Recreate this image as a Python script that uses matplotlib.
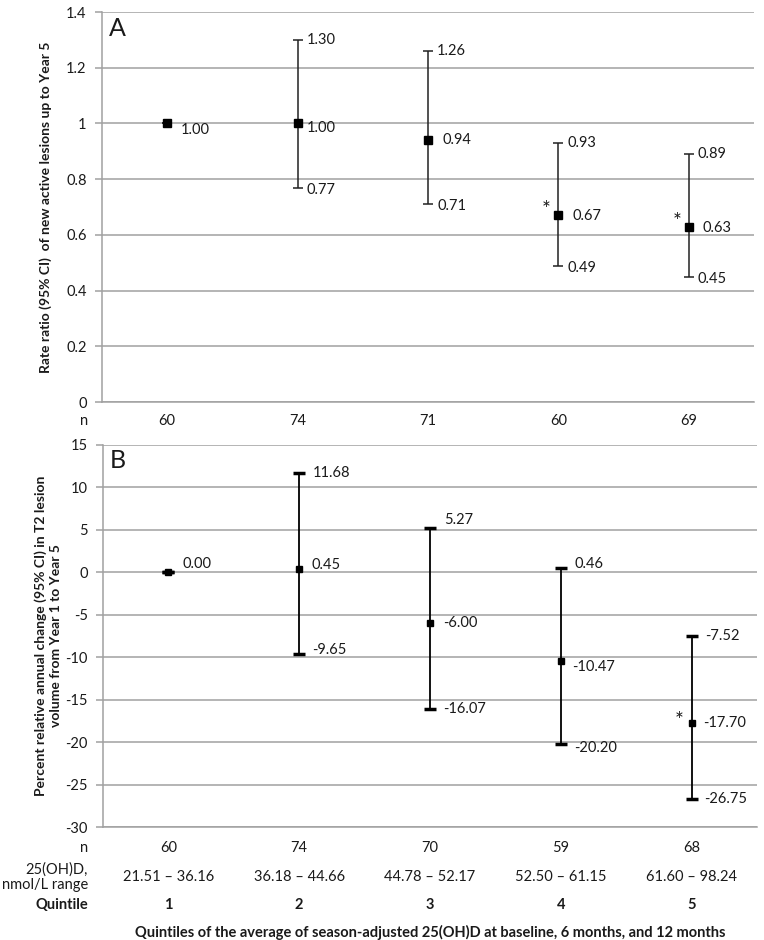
import matplotlib.pyplot as plt
import numpy as np
from matplotlib.ticker import FuncFormatter

plt.rcParams['font.family'] = ['Lato', 'DejaVu Sans']

quintiles = ['1', '2', '3', '4', '5']

# Panel A: rate ratio of new active lesions
rr = [1.00, 1.00, 0.94, 0.67, 0.63]
rr_lo = [1.00, 0.77, 0.71, 0.49, 0.45]
rr_hi = [1.00, 1.30, 1.26, 0.93, 0.89]
n_a = [60, 74, 71, 60, 69]
sig_a = [False, False, False, True, True]

# Panel B: percent relative annual change in T2 lesion volume
pc = [0.00, 0.45, -6.00, -10.47, -17.70]
pc_lo = [0.00, -9.65, -16.07, -20.20, -26.75]
pc_hi = [0.00, 11.68, 5.27, 0.46, -7.52]
n_b = [60, 74, 70, 59, 68]
sig_b = [False, False, False, False, True]
ranges = ['21.51 – 36.16', '36.18 – 44.66', '44.78 – 52.17', '52.50 – 61.15', '61.60 – 98.24']

x = np.arange(len(quintiles))
grid_c = '#a0a0a0'
txt_c = '#1a1a1a'
fs = 10.5

fig = plt.figure(figsize=(7.64, 9.40), dpi=100)
axA = fig.add_axes([0.1335, 0.5723, 0.8535, 0.4149])
axB = fig.add_axes([0.1348, 0.1202, 0.856, 0.4064])


def style_axis(ax, ylim, ticks):
    ax.set_xlim(-0.5, 4.5)
    ax.set_ylim(*ylim)
    ax.set_yticks(ticks)
    ax.yaxis.set_major_formatter(FuncFormatter(lambda v, p: '{:g}'.format(round(v, 2))))
    ax.set_xticks([])
    ax.grid(axis='y', color=grid_c, lw=1.1)
    ax.set_axisbelow(True)
    for s in ['top', 'right']:
        ax.spines[s].set_visible(False)
    for s in ['left', 'bottom']:
        ax.spines[s].set_color(grid_c)
        ax.spines[s].set_linewidth(1.1)
    ax.tick_params(axis='y', length=5, color=grid_c, width=1.1, pad=6,
                   labelsize=fs, labelcolor=txt_c)


# ---- Panel A ----
style_axis(axA, (0, 1.4), np.arange(0, 1.41, 0.2))
axA.errorbar(x, rr, yerr=[np.array(rr) - np.array(rr_lo), np.array(rr_hi) - np.array(rr)],
             fmt='s', color='black', ecolor='#222222', elinewidth=1.1, capsize=3.5,
             capthick=1.1, markersize=6, zorder=3)
mean_off_a = [(14, -7), (9, -5), (14, 0), (14, -1), (14, -1)]
for i in range(len(x)):
    axA.annotate('%.2f' % rr[i], (x[i], rr[i]), xytext=mean_off_a[i], textcoords='offset pixels',
                 ha='left', va='center', fontsize=fs, color=txt_c)
    if rr_hi[i] != rr[i]:
        axA.annotate('%.2f' % rr_hi[i], (x[i], rr_hi[i]), xytext=(9, 0), textcoords='offset pixels',
                     ha='left', va='center', fontsize=fs, color=txt_c)
        axA.annotate('%.2f' % rr_lo[i], (x[i], rr_lo[i]), xytext=(9, -2), textcoords='offset pixels',
                     ha='left', va='center', fontsize=fs, color=txt_c)
    if sig_a[i]:
        axA.annotate('*', (x[i], rr[i]), xytext=(-12, 5), textcoords='offset pixels',
                     ha='center', va='center', fontsize=15, color=txt_c)
axA.text(-0.38, 1.34, 'A', fontsize=18, ha='center', va='center', color=txt_c)

for i in range(len(x)):
    axA.text(x[i], -0.049, str(n_a[i]), transform=axA.get_xaxis_transform(),
             ha='center', va='center', fontsize=fs, color=txt_c)
fig.text(0.115, 1 - 421 / 940, 'n', ha='right', va='center', fontsize=fs, color=txt_c)
axA.set_ylabel('Rate ratio (95% CI)  of new active lesions up to Year 5',
               fontsize=10, fontweight='bold', color=txt_c, labelpad=10)

# ---- Panel B ----
style_axis(axB, (-30, 15), np.arange(-30, 16, 5))
axB.errorbar(x, pc, yerr=[np.array(pc) - np.array(pc_lo), np.array(pc_hi) - np.array(pc)],
             fmt='s', color='black', ecolor='black', elinewidth=1.3, capsize=4,
             capthick=2.5, markersize=4.5, zorder=3)
mean_off_b = [(14, 8), (12, 4), (13, 0), (11, -6), (12, 0)]
hi_off_b = [None, 0, 8, 4, 0]
lo_off_b = [None, 4, 0, -4, 0]
for i in range(len(x)):
    axB.annotate('%.2f' % pc[i], (x[i], pc[i]), xytext=mean_off_b[i], textcoords='offset pixels',
                 ha='left', va='center', fontsize=fs, color=txt_c)
    if pc_hi[i] != pc[i]:
        axB.annotate('%.2f' % pc_hi[i], (x[i], pc_hi[i]), xytext=(14, hi_off_b[i]),
                     textcoords='offset pixels', ha='left', va='center', fontsize=fs, color=txt_c)
        axB.annotate('%.2f' % pc_lo[i], (x[i], pc_lo[i]), xytext=(13, lo_off_b[i]),
                     textcoords='offset pixels', ha='left', va='center', fontsize=fs, color=txt_c)
    if sig_b[i]:
        axB.annotate('*', (x[i], pc[i]), xytext=(-12, 2), textcoords='offset pixels',
                     ha='center', va='center', fontsize=15, color=txt_c)
axB.text(-0.39, 13.2, 'B', fontsize=18, ha='center', va='center', color=txt_c)

xt = axB.get_xaxis_transform()
for i in range(len(x)):
    axB.text(x[i], -0.055, str(n_b[i]), transform=xt, ha='center', va='center',
             fontsize=fs, color=txt_c)
    axB.text(x[i], -0.131, ranges[i], transform=xt, ha='center', va='center',
             fontsize=fs, color=txt_c)
    axB.text(x[i], -0.204, quintiles[i], transform=xt, ha='center', va='center',
             fontsize=fs, fontweight='bold', color=txt_c)
lx = 0.115
fig.text(lx, 1 - 848 / 940, 'n', ha='right', va='center', fontsize=fs, color=txt_c)
fig.text(lx, 1 - 877 / 940, '25(OH)D,\nnmol/L range', ha='right', va='center',
         fontsize=fs, color=txt_c, linespacing=1.1)
fig.text(lx, 1 - 905 / 940, 'Quintile', ha='right', va='center', fontsize=fs,
         fontweight='bold', color=txt_c)
axB.set_xlabel('Quintiles of the average of season-adjusted 25(OH)D at baseline, 6 months, and 12 months',
               fontsize=fs, fontweight='bold', color=txt_c)
axB.xaxis.set_label_coords(0.5, -0.257)
axB.set_ylabel('Percent relative annual change (95% CI) in T2 lesion\nvolume from Year 1 to Year 5',
               fontsize=10, fontweight='bold', color=txt_c, labelpad=2, linespacing=1.3)

fig.savefig('out.png', dpi=100)
